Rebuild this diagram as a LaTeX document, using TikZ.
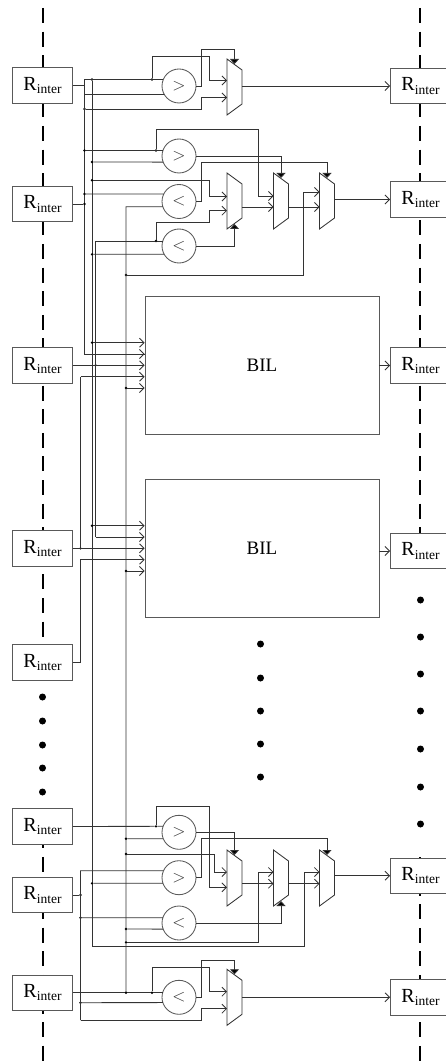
\documentclass[tikz,border=0pt]{standalone}
\usepackage{fontspec}
\setmainfont{Liberation Serif}
\usetikzlibrary{arrows.meta}
\definecolor{wirecol}{gray}{0.2}
\definecolor{boxcol}{gray}{0.35}
\newcommand{\Rinter}{R\raisebox{-3.5pt}{\fontsize{13.5}{14}\selectfont inter}}
% name, left x, top y, input a y, input b y, output y
\newcommand{\muxblock}[6]{
\draw[wire] (#2,#3) -- (#2+15,#3+11) -- (#2+15,#3+45) -- (#2,#3+56) -- cycle;
\coordinate (#1a) at (#2,#4);
\coordinate (#1b) at (#2,#5);
\coordinate (#1o) at (#2+15,#6);
\coordinate (#1s) at (#2+7.5,#3+5);
\coordinate (#1u) at (#2+7.5,#3+51);
}
\tikzset{
  wire/.style={draw=wirecol, line width=0.85pt},
  inarrow/.style={wire, -{Straight Barb[length=4.5pt,width=9pt]}},
  selarrow/.style={wire, -{Triangle[length=5pt,width=9pt,fill=black]}},
  jdot/.style={circle, fill=black, inner sep=0pt, minimum size=2.6pt, outer sep=0pt},
  bigdot/.style={circle, fill=black, inner sep=0pt, minimum size=7pt},
  regbox/.style={rectangle, draw=boxcol, fill=white, line width=0.85pt, minimum width=60pt, minimum height=35.5pt, inner sep=0pt, font=\fontsize{20}{20}\selectfont},
  cmpbox/.style={circle, draw=boxcol, fill=white, line width=0.85pt, minimum size=34pt, inner sep=0pt, outer sep=0pt, font=\fontsize{17}{17}\selectfont, text=wirecol},
  bilbox/.style={rectangle, draw=boxcol, line width=0.85pt, minimum width=234pt, minimum height=138pt, font=\fontsize{19}{19}\selectfont},
  divline/.style={draw=black, line width=1.8pt, dash pattern=on 15pt off 8.6pt},
}
\begin{document}
\begin{tikzpicture}[x=1pt, y=-1pt]
\useasboundingbox (0,0) rectangle (445,1064);
% dashed borders
\draw[divline] (42.7,8) -- (42.7,648);
\draw[divline] (42.7,809.7) -- (42.7,1064);
\draw[divline] (420.3,8) -- (420.3,537);
\draw[divline] (420.3,857) -- (420.3,1064);
% registers
\node[regbox] (rl1) at (42.5,85.5) {\Rinter};
\node[regbox] (rl2) at (42.5,204) {\Rinter};
\node[regbox] (rl3) at (42.5,365.3) {\Rinter};
\node[regbox] (rl4) at (42.5,548.3) {\Rinter};
\node[regbox] (rl5) at (42.5,662.3) {\Rinter};
\node[regbox] (rl6) at (42.5,826.5) {\Rinter};
\node[regbox] (rl7) at (42.5,895) {\Rinter};
\node[regbox] (rl8) at (42.5,992.7) {\Rinter};
\node[regbox] (rr1) at (420.5,86) {\Rinter};
\node[regbox] (rr2) at (420.5,199.5) {\Rinter};
\node[regbox] (rr3) at (420.5,365.5) {\Rinter};
\node[regbox] (rr4) at (420.5,551) {\Rinter};
\node[regbox] (rr5) at (420.5,875.7) {\Rinter};
\node[regbox] (rr6) at (420.5,997.3) {\Rinter};
% BIL blocks
\node[bilbox] (bil1) at (262,365) {BIL};
\node[bilbox] (bil2) at (262,548) {BIL};
% ellipsis dots
\foreach \y [count=\i] in {697,721,745,768,792} \node[bigdot] (ldot\i) at (42.5,\y) {};
\foreach \y [count=\i] in {644,678,711,744,777} \node[bigdot] (mdot\i) at (260.5,\y) {};
\foreach \y [count=\i] in {600,637,674,711,749,787,824} \node[bigdot] (rdot\i) at (420.5,\y) {};
% comparators
\node[cmpbox] (cmp1) at (179,86) {$>$};
\node[cmpbox] (cmp2) at (179,156) {$>$};
\node[cmpbox] (cmp3) at (179,201.5) {$<$};
\node[cmpbox] (cmp4) at (179,246) {$<$};
\node[cmpbox] (cmp5) at (179,832.3) {$>$};
\node[cmpbox] (cmp6) at (179,877.7) {$>$};
\node[cmpbox] (cmp7) at (179,923) {$<$};
\node[cmpbox] (cmp8) at (179,997.3) {$<$};
% muxes
\muxblock{mux1}{227}{59}{80.5}{97.5}{86}
\muxblock{mux2}{227}{173}{196.5}{210.7}{207}
\muxblock{mux3}{273.5}{173}{196}{207}{207}
\muxblock{mux4}{319.5}{173}{192}{207}{199.5}
\muxblock{mux5}{227}{850}{872}{887.3}{883.7}
\muxblock{mux6}{273.5}{850}{872}{883.7}{883.7}
\muxblock{mux7}{319.5}{850}{872}{883.7}{875.7}
\muxblock{mux8}{227}{969.3}{991.7}{1008.7}{997.3}
% top single mux
\node[jdot] (j1a) at (92,79.5) {};
\node[jdot] (j1b) at (152,79.5) {};
\node[jdot] (j1c) at (84.5,109) {};
\draw[wire] (rl1.east) -- (84.5,85.5) -- (84.5,79.5) -- (j1b -| cmp1.158);
\draw[wire] (84.5,94.5) -- (cmp1.210);
\draw[inarrow] (j1b) -- (152,56) -- (209,56) -- (209,80.5) -- (mux1a);
\draw[inarrow] (j1c) -- (201.5,109) -- (201.5,97.5) -- (mux1b);
\draw[selarrow] (cmp1.east) -- (201.5,86) -- (201.5,49) -- (234.5,49) -- (mux1s);
\draw[inarrow] (mux1o) -- (rr1.west);
% bus lines
\draw[wire] (84.5,79.5) -- (84.5,354) -- (bil1.west |- 0,354);
\draw[wire] (j1a) -- (92,946) -- (304.5,946) -- (304.5,872);
\draw[inarrow] (304.5,872) -- (mux7a);
\node[jdot] (j2h) at (95.5,365.3) {};
\node[jdot] (j2k) at (126,275) {};
\draw[wire] (95.5,241) -- (95.5,537);
\draw[wire] (cmp3.198) -- (126,206.7) -- (126,992.7);
% top triple mux
\node[jdot] (j2a) at (84.5,150.5) {};
\node[jdot] (j2b) at (156,150.5) {};
\node[jdot] (j2c) at (92,162) {};
\node[jdot] (j2d) at (92,180.3) {};
\node[jdot] (j2e) at (84.5,194) {};
\node[jdot] (j2f) at (84.5,204) {};
\node[jdot] (j2g) at (156,241) {};
\node[jdot] (j2i) at (92,254.3) {};
\draw[wire] (j2a) -- (j2a -| cmp2.161);
\draw[inarrow] (j2b) -- (156,129.5) -- (258,129.5) -- (258,196) -- (mux3a);
\draw[wire] (j2c) -- (cmp2.201);
\draw[inarrow] (j2d) -- (209,180.3) -- (209,196.5) -- (mux2a);
\draw[wire] (j2e) -- (cmp3.154);
\draw[wire] (rl2.east) -- (j2f);
\draw[wire] (95.5,241) -- (j2g) -- (j2g -| cmp4.163);
\draw[inarrow] (j2g) -- (156,222.7) -- (209,222.7) -- (209,210.7) -- (mux2b);
\draw[wire] (j2i) -- (cmp4.209);
\draw[selarrow] (cmp2.east) -- (281,156) -- (mux3s);
\draw[selarrow] (cmp3.east) -- (201.5,201.5) -- (201.5,162) -- (327,162) -- (mux4s);
\draw[selarrow] (cmp4.east) -- (234.5,246) -- (mux2u);
\draw[inarrow] (mux2o) -- (mux3b);
\draw[inarrow] (mux3o) -- (mux4b);
\draw[inarrow] (j2k) -- (303.5,275) -- (303.5,192) -- (mux4a);
\draw[inarrow] (mux4o) -- (rr2.west);
% BIL inputs
\node[jdot] (j3a) at (92,342.7) {};
\node[jdot] (j3b) at (126,388) {};
\node[jdot] (j3c) at (92,525.7) {};
\node[jdot] (j3d) at (80.5,548.3) {};
\node[jdot] (j3e) at (126,571) {};
\draw[inarrow] (j3a) -- (bil1.west |- j3a);
\draw[inarrow] (84.5,354) -- (bil1.west |- 0,354);
\draw[inarrow] (rl3.east) -- (bil1.west |- rl3.east);
\draw[wire] (j3d) -- (80.5,376.7);
\draw[inarrow] (80.5,376.7) -- (bil1.west |- 0,376.7);
\draw[inarrow] (j3b) -- (bil1.west |- j3b);
\draw[inarrow] (j3c) -- (bil2.west |- j3c);
\draw[inarrow] (95.5,537) -- (bil2.west |- 0,537);
\draw[inarrow] (rl4.east) -- (bil2.west |- rl4.east);
\draw[inarrow] (rl5.east) -- (80.5,662.3) -- (80.5,559.7) -- (bil2.west |- 0,559.7);
\draw[inarrow] (j3e) -- (bil2.west |- j3e);
\draw[inarrow] (bil1.east |- rr3.west) -- (rr3.west);
\draw[inarrow] (bil2.east |- rr4.west) -- (rr4.west);
% bottom triple mux
\node[jdot] (j4a) at (156,826.3) {};
\node[jdot] (j4b) at (126,838.7) {};
\node[jdot] (j4c) at (126,854) {};
\node[jdot] (j4d) at (92,883.3) {};
\node[jdot] (j4e) at (80.5,895) {};
\node[jdot] (j4f) at (80.5,917.7) {};
\node[jdot] (j4g) at (126,929) {};
\node[jdot] (j4h) at (126,942.3) {};
\node[jdot] (j4i) at (126,992.7) {};
\node[jdot] (j4j) at (152,992.7) {};
\node[jdot] (j4k) at (80.5,1002.7) {};
\draw[wire] (rl6.east) -- (j4a) -- (j4a -| cmp5.159);
\draw[inarrow] (j4a) -- (156,806) -- (209,806) -- (209,887.3) -- (mux5b);
\draw[wire] (j4b) -- (cmp5.202);
\draw[selarrow] (cmp5.east) -- (234.5,832.3) -- (mux5s);
\draw[selarrow] (cmp6.east) -- (201.5,877.7) -- (201.5,838.3) -- (327,838.3) -- (mux7s);
\draw[inarrow] (j4c) -- (214.5,854) -- (214.5,872) -- (mux5a);
\draw[wire] (rl7.east) -- (j4e);
\draw[wire] (cmp6.156) -- (80.5,870.7) -- (80.5,1020);
\draw[wire] (j4d) -- (cmp6.199);
\draw[wire] (j4f) -- (cmp7.162);
\draw[wire] (j4g) -- (cmp7.201);
\draw[selarrow] (cmp7.east) -- (281,923) -- (mux6u);
\draw[inarrow] (j4h) -- (258.5,942.3) -- (258.5,872) -- (mux6a);
\draw[inarrow] (mux5o) -- (mux6b);
\draw[inarrow] (mux6o) -- (mux7b);
\draw[inarrow] (mux7o) -- (rr5.west);
% bottom single mux
\draw[wire] (rl8.east) -- (j4i) -- (j4j) -- (j4j -| cmp8.164);
\draw[inarrow] (j4j) -- (152,967.3) -- (209,967.3) -- (209,991.7) -- (mux8a);
\draw[wire] (j4k) -- (cmp8.198);
\draw[inarrow] (80.5,1020) -- (201.5,1020) -- (201.5,1008.7) -- (mux8b);
\draw[selarrow] (cmp8.east) -- (201.5,997.3) -- (201.5,960) -- (234.5,960) -- (mux8s);
\draw[inarrow] (mux8o) -- (rr6.west);
\end{tikzpicture}
\end{document}
